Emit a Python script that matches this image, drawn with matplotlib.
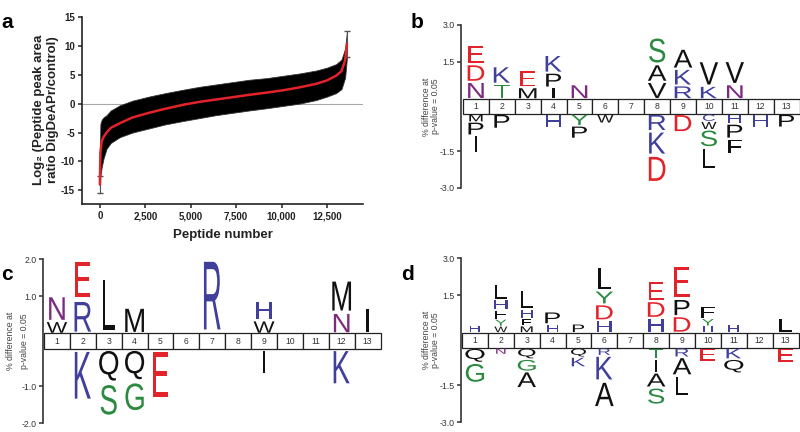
import matplotlib
matplotlib.use('Agg')
import matplotlib.pyplot as plt
from matplotlib.textpath import TextPath
from matplotlib.patches import PathPatch, Rectangle
from matplotlib.font_manager import FontProperties
from matplotlib.transforms import Affine2D

plt.rcParams['font.family'] = ['Liberation Sans', 'DejaVu Sans']

# ---------------- panel a data ----------------
peptide_number = [0, 30, 100, 200, 370, 600, 1100, 1800, 2700, 3600, 4600, 5500,
                  6400, 7300, 8200, 9200, 10100, 11000, 11900, 12500, 13000, 13300, 13500, 13600]
log2_ratio = [-14.0, -8.5, -6.5, -5.8, -5.0, -4.2, -3.4, -2.4, -1.6, -0.9, -0.2, 0.3,
              0.7, 1.1, 1.5, 1.9, 2.3, 2.8, 3.4, 4.0, 4.8, 5.6, 7.5, 10.3]
err_upper = [-8.0, -3.5, -2.8, -2.4, -2.0, -1.2, -0.3, 0.5, 1.2, 1.8, 2.4, 2.9,
             3.3, 3.7, 4.1, 4.4, 4.8, 5.2, 5.7, 6.2, 6.8, 7.6, 9.5, 12.5]
err_lower = [-15.5, -12.5, -11.0, -9.5, -7.8, -6.8, -5.8, -5.0, -4.3, -3.6, -3.0, -2.5,
             -2.0, -1.6, -1.2, -0.8, -0.4, 0.0, 0.6, 1.2, 1.8, 2.5, 4.5, 8.0]
end_x = [0, 13600]
end_y = [-14.0, 10.3]
end_err = [1.5, 2.2]
a_xticks = [0, 2500, 5000, 7500, 10000, 12500]
a_xticklabels = ['0', '2,500', '5,000', '7,500', '10,000', '12,500']
a_yticks = [-15, -10, -5, 0, 5, 10, 15]
a_yticklabels = ['-15', '-10', '-5', '0', '5', '10', '15']

# ---------------- logo data (letter, % difference), listed outward from the box ----------------
positions = list(range(1, 14))

b_up = {1: [('N', .70), ('D', .72), ('E', .80)],
        2: [('T', .62), ('K', .72)],
        3: [('M', .47), ('E', .72)],
        4: [('I', .47), ('P', .60), ('K', .73)],
        5: [('N', .60)],
        8: [('V', .70), ('A', .72), ('S', 1.12)],
        9: [('R', .55), ('K', .68), ('A', .83)],
        10: [('K', .53), ('V', 1.04)],
        11: [('N', .60), ('V', .97)]}
b_down = {1: [('M', .32), ('P', .55), ('I', .71)],
          2: [('P', .60)],
          4: [('H', .58)],
          5: [('Y', .48), ('P', .52)],
          6: [('W', .37)],
          8: [('R', .70), ('K', .98), ('D', 1.12)],
          9: [('D', .75)],
          10: [('C', .30), ('W', .33), ('S', .73), ('L', .90)],
          11: [('H', .40), ('P', .60), ('F', .65)],
          12: [('H', .55)],
          13: [('P', .55)]}
b_ticks = [3.0, 1.5, -1.5, -3.0]
b_ticklabels = ['3.0', '1.5', '-1.5', '-3.0']

c_up = {1: [('W', .33), ('N', .70)],
        2: [('R', .92), ('E', 1.10)],
        3: [('L', 1.57)],
        4: [('M', .72)],
        7: [('R', 2.10)],
        9: [('W', .35), ('H', .55)],
        12: [('N', .57), ('M', .90)],
        13: [('I', .70)]}
c_down = {2: [('K', 1.45)],
          3: [('Q', .92), ('S', .92)],
          4: [('Q', .88), ('G', .83)],
          5: [('E', 1.40)],
          9: [('I', .70)],
          12: [('K', 1.00)]}
c_ticks = [2.0, 1.0, -1.0, -2.0]
c_ticklabels = ['2.0', '1.0', '-1.0', '-2.0']

d_up = {1: [('H', .30)],
        2: [('W', .26), ('Y', .28), ('F', .38), ('H', .42), ('L', .62)],
        3: [('M', .27), ('F', .30), ('H', .36), ('L', .83)],
        4: [('H', .35), ('P', .50)],
        5: [('P', .35)],
        6: [('H', .50), ('D', .65), ('Y', .55), ('L', .97)],
        8: [('H', .60), ('D', .68), ('E', .83)],
        9: [('D', .67), ('P', .70), ('E', 1.38)],
        10: [('H', .27), ('Y', .30), ('F', .50)],
        11: [('H', .32)],
        13: [('L', .60)]}
d_down = {1: [('Q', .60), ('G', .83)],
          2: [('N', .25)],
          3: [('Q', .45), ('G', .50), ('A', .68)],
          5: [('Q', .37), ('K', .40)],
          6: [('R', .30), ('K', 1.05), ('A', 1.08)],
          8: [('T', .45), ('I', .55), ('A', .60), ('S', .70)],
          9: [('R', .37), ('A', .75), ('L', .83)],
          10: [('E', .55)],
          11: [('K', .45), ('Q', .58)],
          13: [('E', .60)]}
d_ticks = [3.0, 1.5, -1.5, -3.0]
d_ticklabels = ['3.0', '1.5', '-1.5', '-3.0']

# ---------------- styling ----------------
RED = '#E3232A'
BLUE = '#40409C'
GREEN = '#2A8A3F'
PURPLE = '#7E2A7E'
BLACK = '#111111'
letter_color = {'D': RED, 'E': RED, 'K': BLUE, 'R': BLUE, 'H': BLUE, 'C': BLUE,
                'S': GREEN, 'T': GREEN, 'Y': GREEN, 'G': GREEN, 'N': PURPLE}
width_factor = {'W': 0.8}

W, H = 800, 432
fig = plt.figure(figsize=(W / 100, H / 100), dpi=100)

# ---------------- panel a ----------------
ax = fig.add_axes([81.7 / W, 1 - 204.3 / H, (363.3 - 81.7) / W, (204.3 - 16.7) / H])
ax.set_xlim(-1000, 14500)
ax.set_ylim(-17.4, 15)
ax.axhline(0, color='#A8A8A8', lw=0.8, zorder=1)
ax.fill_between(peptide_number, err_lower, err_upper, color='black', lw=0.6,
                edgecolor='#333333', zorder=2)
ax.errorbar(end_x, end_y, yerr=end_err, fmt='none', ecolor='#555555', elinewidth=0.8,
            capsize=2, zorder=2)
ax.plot(peptide_number, log2_ratio, color=RED, lw=1.8, zorder=3, solid_capstyle='round')
for s in ['top', 'right']:
    ax.spines[s].set_visible(False)
for s in ['left', 'bottom']:
    ax.spines[s].set_linewidth(1.2)
    ax.spines[s].set_color('#222222')
ax.set_xticks(a_xticks)
ax.set_xticklabels(a_xticklabels, fontsize=7, fontweight='bold', color='#222222')
ax.set_yticks(a_yticks)
ax.set_yticklabels(a_yticklabels, fontsize=7, fontweight='bold', color='#222222')
ax.tick_params(length=3, width=1.1, color='#222222', pad=2)
fig.text(46 / W, 1 - 110 / H, 'Log\u2082 (Peptide peak area\nratio DigDeAPr/control)',
         rotation=90, ha='center', va='center', fontsize=9.5, fontweight='bold',
         color='#222222', linespacing=1.2)
fig.text(222.5 / W, 1 - 235 / H, 'Peptide number', ha='center', va='center',
         fontsize=9.5, fontweight='bold', color='#222222')

# ---------------- logo helper ----------------
FP = FontProperties(family='Liberation Sans')
_cache = {}


def glyph(letter):
    if letter not in _cache:
        _cache[letter] = TextPath((0, 0), letter, size=1, prop=FP)
    return _cache[letter]


def draw_letter(ax, letter, xc, y0, y1, pxx, pxy):
    path = glyph(letter)
    bb = path.get_extents()
    gh = y1 - y0
    h_px = gh * pxy
    em_px = min(28.0, 6.0 + 2.0 * h_px) * width_factor.get(letter, 1.0)
    sx = em_px / pxx
    sy = gh / bb.height
    tr = (Affine2D().translate(-(bb.x0 + bb.width / 2), -bb.y0).scale(sx, sy)
          .translate(xc, y0) + ax.transData)
    ax.add_patch(PathPatch(path, transform=tr, fc=letter_color.get(letter, BLACK),
                           ec='none', lw=0, zorder=3))


def logo(rect_px, up, down, half, ymax, ticks, ticklabels, left_gap, lab_x, lab_ls):
    x0, y_top, x1, y_bot = rect_px
    ax = fig.add_axes([x0 / W, 1 - y_bot / H, (x1 - x0) / W, (y_bot - y_top) / H])
    cellw = (x1 - x0 - left_gap) / 13.0
    xmin = 0.5 - left_gap / cellw
    ax.set_xlim(xmin, 13.5)
    ax.set_ylim(-(half + ymax), half + ymax)
    pxx = cellw
    pxy = (y_bot - y_top) / (2 * (half + ymax))
    for p in positions:
        ax.add_patch(Rectangle((p - 0.5, -half), 1, 2 * half, fc='white', ec='#222222',
                               lw=0.9, zorder=2, clip_on=False))
        ax.text(p, 0, str(p), ha='center', va='center', fontsize=6.2, color='#333333',
                zorder=4)
    for p, stack in up.items():
        y = half
        for letter, v in stack:
            draw_letter(ax, letter, p, y + 0.05 * v, y + 0.92 * v, pxx, pxy)
            y += v
    for p, stack in down.items():
        y = -half
        for letter, v in stack:
            draw_letter(ax, letter, p, y - 0.92 * v, y - 0.05 * v, pxx, pxy)
            y -= v
    for s in ['top', 'right', 'bottom']:
        ax.spines[s].set_visible(False)
    ax.spines['left'].set_linewidth(1.2)
    ax.spines['left'].set_color('#333333')
    ax.set_xticks([])
    ax.set_yticks([t + half if t > 0 else t - half for t in ticks])
    ax.set_yticklabels(ticklabels, fontsize=6.3, color='#333333')
    ax.tick_params(axis='y', length=3, width=1.1, color='#333333', pad=1.5)
    fig.text(lab_x / W, 1 - (y_top + y_bot) / 2 / H, '% difference at\np-value = 0.05',
             rotation=90, ha='center', va='center', fontsize=6.3, color='#444444',
             linespacing=lab_ls)
    return ax


logo((461, 25, 799.5, 188), b_up, b_down, 0.31, 3.0, b_ticks, b_ticklabels, 2.0, 431, 1.0)
logo((43, 259.3, 380.5, 423.3), c_up, c_down, 0.215, 2.0, c_ticks, c_ticklabels, 1.0, 17.5, 1.6)
logo((461, 258.3, 798.5, 422.3), d_up, d_down, 0.315, 3.0, d_ticks, d_ticklabels, 1.0, 431, 1.0)

# ---------------- panel letters ----------------
for lab, x, y in [('a', 1, 28), ('b', 411, 28), ('c', 1, 280), ('d', 401, 280)]:
    fig.text(x / W, 1 - y / H, lab, ha='left', va='baseline', fontsize=15,
             fontweight='bold', color='black', family=['Liberation Sans', 'DejaVu Sans'])

fig.savefig('out.png', dpi=100)
